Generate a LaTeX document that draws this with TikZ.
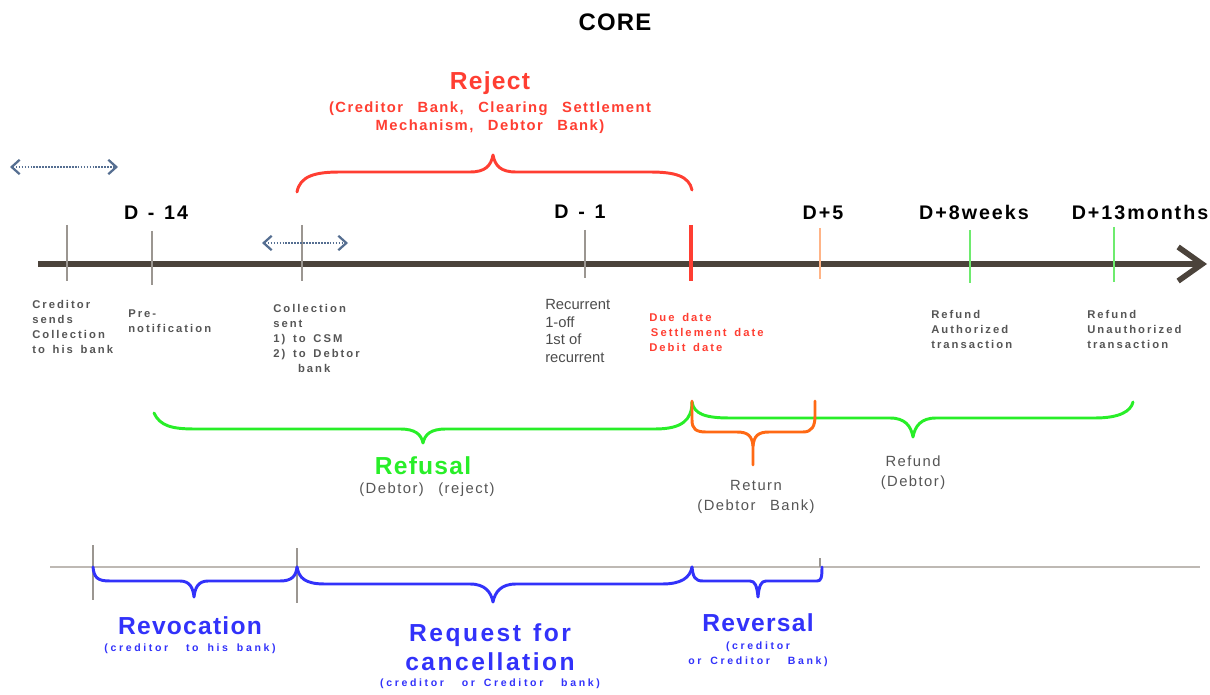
\documentclass[tikz,border=0pt]{standalone}
\usepackage{fontspec}
\setmainfont{Liberation Sans}
\newfontfamily\titlefont[LetterSpace=5]{Liberation Sans}
\newfontfamily\widefont[LetterSpace=10,WordSpace=1.3]{Liberation Sans}
\newfontfamily\widerfont[LetterSpace=18,WordSpace=1.5]{Liberation Sans}
\newfontfamily\widestfont[LetterSpace=25,WordSpace=1.6]{Liberation Sans}
\usetikzlibrary{arrows.meta, positioning}

\definecolor{axisbrown}{RGB}{75,67,59}
\definecolor{tickgray}{RGB}{155,150,145}
\definecolor{linegray}{RGB}{190,185,180}
\definecolor{rejectred}{RGB}{255,62,50}
\definecolor{refusalgreen}{RGB}{40,238,40}
\definecolor{tickgreen}{RGB}{110,235,110}
\definecolor{returnorange}{RGB}{255,105,20}
\definecolor{tickorange}{RGB}{255,180,135}
\definecolor{revblue}{RGB}{50,50,250}
\definecolor{dotblue}{RGB}{85,110,145}
\definecolor{notegray}{RGB}{85,85,85}

\begin{document}
\begin{tikzpicture}[
    x=0.025cm, y=-0.025cm,
    title/.style={anchor=base, inner sep=0pt, font=\titlefont\fontsize{17.5}{20}\selectfont\bfseries},
    datelabel/.style={anchor=base, inner sep=0pt, font=\widefont\fontsize{14}{16}\selectfont\bfseries},
    note/.style={anchor=north west, align=left, inner sep=0pt, text=notegray, font=\widerfont\fontsize{8}{10.7}\selectfont\bfseries},
    remark/.style={anchor=north, align=center, inner sep=0pt, text=notegray, font=\widefont\fontsize{10.5}{14}\selectfont},
    who/.style={anchor=north, align=center, inner sep=0pt, text=revblue, font=\widestfont\fontsize{7.5}{10.7}\selectfont\bfseries},
    tick/.style={tickgray, line width=1.4pt},
    brace/.style={line width=2.1pt, line cap=round, line join=round},
    span/.style={dotblue, line width=1.3pt, dash pattern=on 1.2pt off 0.9pt,
        {Straight Barb[length=2mm,width=3.6mm,line width=1.6pt]}-{Straight Barb[length=2mm,width=3.6mm,line width=1.6pt]}}
]
    \useasboundingbox (0,0) rectangle (1210,695);

    % Title
    \node[title, font=\titlefont\fontsize{17}{20}\selectfont\bfseries] (core) at (615,31) {CORE};

    % Timeline
    \coordinate (start) at (38,264);
    \coordinate (end) at (1207,264);
    \draw[axisbrown, line width=4.5pt, -{Straight Barb[length=6mm,width=8.5mm,line width=4pt]}] (start) -- (end);

    \draw[tick] (67,225) -- (67,281);
    \draw[tick] (152,231) -- (152,285);
    \draw[tick] (302,225) -- (302,281);
    \draw[tick] (585,230) -- (585,278);
    \draw[rejectred, line width=2.8pt] (691,225) -- (691,281);
    \draw[tickorange, line width=1.4pt] (820,228) -- (820,279);
    \draw[tickgreen, line width=1.4pt] (970,230) -- (970,283);
    \draw[tickgreen, line width=1.4pt] (1114,227) -- (1114,282);

    % Dotted spans
    \coordinate (spanA) at (10,167);
    \coordinate (spanB) at (118,167);
    \coordinate (spanC) at (262,243);
    \coordinate (spanD) at (348,243);
    \draw[span] (spanA) -- (spanB);
    \draw[span] (spanC) -- (spanD);

    % Dates
    \node[datelabel] (d14) at (156,220) {D - 14};
    \node[datelabel] (d1) at (580,219) {D - 1};
    \node[datelabel] (d5) at (823,220) {D+5};
    \node[datelabel] (w8) at (974,220) {D+8weeks};
    \node[datelabel] (m13) at (1140,220) {D+13months};

    % Notes under the timeline
    \node[note] (sendnote) at (32,300) {Creditor\\sends\\Collection\\to his bank};
    \node[note] (prenote) at (128,309) {Pre-\\notification};
    \node[note] (collectnote) at (273,304) {Collection\\sent\\1) to CSM\\2) to Debtor\\\hspace*{2.2em}bank};
    \node[note, text=black!70, font=\fontsize{10.5}{12.6}\selectfont] (recurnote) at (545,299) {Recurrent\\1-off\\1st of\\recurrent};
    \node[note, text=rejectred] (duenote) at (649,313) {Due date\\\hspace*{0.15em}Settlement date\\Debit date};
    \node[note] (authnote) at (931,310) {Refund\\Authorized\\transaction};
    \node[note] (unauthnote) at (1087,310) {Refund\\Unauthorized\\transaction};

    % Reject brace
    \draw[brace, rejectred] (297,192) .. controls (300,176) and (315,172) .. (340,172) -- (470,172)
        .. controls (485,172) and (491,166) .. (493,155) .. controls (495,166) and (501,172) .. (516,172)
        -- (650,172) .. controls (675,172) and (689,176) .. (692,190);
    \node[title, rejectred] (reject) at (490,90) {Reject};
    \node[who, rejectred, font=\widefont\fontsize{10.5}{12.8}\selectfont\bfseries] (rejectwho) at (490,102)
        {(Creditor~ Bank,~ Clearing~ Settlement\\Mechanism,~ Debtor~ Bank)};

    % Refusal and refund braces
    \draw[brace, refusalgreen] (154,413) .. controls (160,426) and (172,429) .. (195,429) -- (400,429)
        .. controls (415,429) and (421,434) .. (423,443) .. controls (425,434) and (431,429) .. (446,429)
        -- (655,429) .. controls (682,429) and (692,420) .. (692,402);
    \draw[brace, refusalgreen] (692,402) .. controls (694,414) and (705,418) .. (730,418) -- (890,418)
        .. controls (905,418) and (911,426) .. (913,437) .. controls (915,426) and (921,418) .. (936,418)
        -- (1095,418) .. controls (1120,418) and (1131,411) .. (1133,402);
    \node[title, refusalgreen] (refusal) at (423,474) {Refusal};
    \node[remark] (refusalwho) at (427,483) {(Debtor)~ (reject)};
    \node[remark] (refund) at (913,456) {Refund\\(Debtor)};

    % Return brace
    \draw[brace, returnorange] (692,401) -- (692,420) .. controls (692,429) and (696,432) .. (706,432) -- (737,432)
        .. controls (748,432) and (752,436) .. (753,446) -- (753,465);
    \draw[brace, returnorange] (753,446) .. controls (754,436) and (758,432) .. (769,432) -- (803,432)
        .. controls (812,432) and (815,426) .. (815,416) -- (815,401);
    \node[remark] (return) at (756,480) {Return\\(Debtor~ Bank)};

    % Lower timeline
    \coordinate (lowstart) at (50,567);
    \coordinate (lowend) at (1200,567);
    \draw[linegray, line width=2.1pt] (lowstart) -- (lowend);
    \draw[tick] (93,545) -- (93,600);
    \draw[tick] (297,548) -- (297,603);
    \draw[tick] (820,558) -- (820,567);

    % Revocation, cancellation and reversal braces
    \draw[brace, revblue] (93,567) .. controls (94,578) and (98,581) .. (110,581) -- (180,581)
        .. controls (190,581) and (193,588) .. (194,597) .. controls (195,588) and (198,581) .. (208,581)
        -- (280,581) .. controls (292,581) and (296,576) .. (297,567);
    \draw[brace, revblue] (297,567) .. controls (299,578) and (305,584) .. (325,584) -- (470,584)
        .. controls (485,584) and (491,592) .. (493,602) .. controls (495,592) and (501,584) .. (516,584)
        -- (662,584) .. controls (681,584) and (690,578) .. (692,567);
    \draw[brace, revblue] (692,567) .. controls (693,577) and (695,581) .. (703,581) -- (750,581)
        .. controls (755,581) and (757,586) .. (758,597) .. controls (759,586) and (761,581) .. (766,581)
        -- (817,581) .. controls (821,581) and (822,578) .. (822,567);

    \node[title, revblue] (revocation) at (190,634) {Revocation};
    \node[who] (revocationwho) at (190,644) {(creditor~ to his bank)};
    \node[title, revblue, font=\widefont\fontsize{17.5}{20}\selectfont\bfseries] (request) at (490,641) {Request for};
    \node[title, revblue, font=\widefont\fontsize{17.5}{20}\selectfont\bfseries] (cancellation) at (490,670) {cancellation};
    \node[who] (requestwho) at (490,679) {(creditor~ or Creditor~ bank)};
    \node[title, revblue] (reversal) at (758,631) {Reversal};
    \node[who] (reversalwho) at (758,642) {(creditor\\or Creditor~ Bank)};
\end{tikzpicture}
\end{document}
